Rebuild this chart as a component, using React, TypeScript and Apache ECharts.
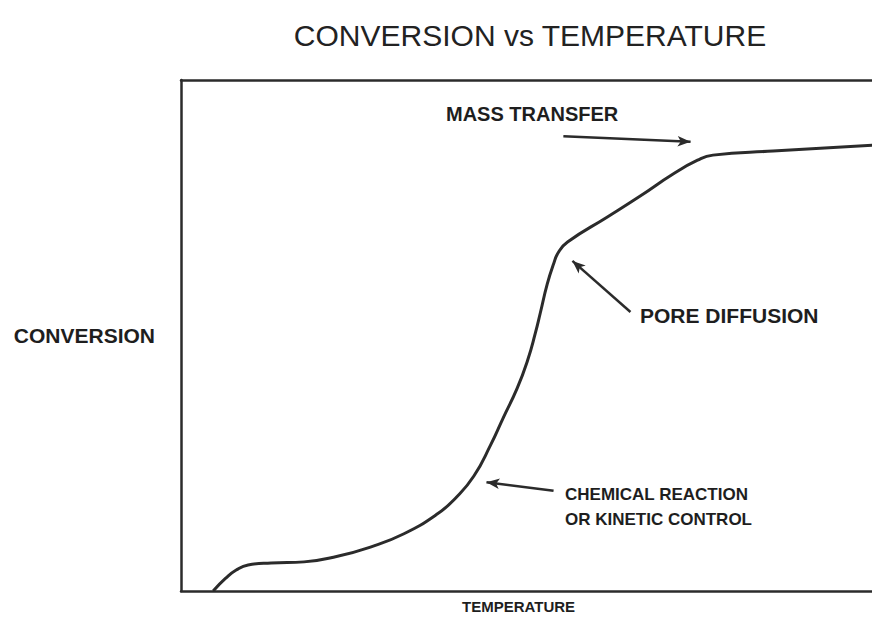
import React, { useEffect, useRef } from "react";
import * as echarts from "echarts";

// Curve: temperature (0-100 across the box) vs conversion (0-100 up the box)
const temperature = [4.6, 6.4, 7.9, 9.6, 12.9, 17.6, 22.4, 27.1, 31.9, 36.7, 39.3, 41.9, 44.3, 46.1, 48.1, 49.6, 50.7, 51.4, 52.4, 53.3, 54.0, 55.3, 61.0, 65.7, 70.4, 73.9, 76.1, 84.7, 100];
const conversion = [0, 2.5, 4.1, 5.1, 5.5, 5.7, 6.8, 8.6, 11.2, 15.1, 18.2, 22.5, 28.6, 33.9, 39.7, 45.2, 50.5, 54.4, 60.1, 64.0, 66.3, 68.3, 73.2, 77.3, 81.6, 84.3, 85.3, 86.1, 87.3];

// Annotation arrows: [tailX, tailY, headX, headY] in data units
const massTransferArrow = [54.7, 89.0, 72.9, 87.9];
const poreDiffusionArrow = [64.3, 54.6, 56.0, 64.6];
const chemicalArrow = [53.3, 19.6, 43.7, 21.3];

const titleText = "CONVERSION vs TEMPERATURE";
const xName = "TEMPERATURE";
const yName = "CONVERSION";
const labelMass = "MASS TRANSFER";
const labelPore = "PORE DIFFUSION";
const labelChem = "CHEMICAL REACTION\nOR KINETIC CONTROL";

const INK = "#2b2b2b";
const FONT = "'Liberation Sans', Arial, Helvetica, sans-serif";

export default function App() {
  const ref = useRef<HTMLDivElement>(null);
  useEffect(() => {
    if (!ref.current) return;
    const chart = echarts.init(ref.current, undefined, { renderer: "svg" });
    const arrow = (a: number[]) => [{ coord: [a[0], a[1]] }, { coord: [a[2], a[3]] }];
    chart.setOption({
      animation: false,
      backgroundColor: "#ffffff",
      title: {
        text: titleText,
        left: 525,
        textAlign: "center",
        top: 15,
        textStyle: { fontFamily: FONT, fontSize: 30, fontWeight: "normal", color: "#222" },
      },
      grid: { left: 181, right: 0, top: 80, bottom: 37 },
      xAxis: [
        {
          type: "value",
          min: 0,
          max: 100,
          axisLine: { show: true, onZero: false, lineStyle: { color: INK, width: 2.5 } },
          axisTick: { show: false },
          axisLabel: { show: false },
          splitLine: { show: false },
        },
        {
          type: "value",
          position: "top",
          min: 0,
          max: 100,
          axisLine: { show: true, onZero: false, lineStyle: { color: INK, width: 2.5 } },
          axisTick: { show: false },
          axisLabel: { show: false },
          splitLine: { show: false },
        },
      ],
      yAxis: {
        type: "value",
        min: 0,
        max: 100,
        name: yName,
        nameLocation: "middle",
        nameRotate: 0,
        nameGap: 26,
        nameTextStyle: { fontFamily: FONT, fontSize: 21, fontWeight: "bold", color: "#1e1e1e", align: "right" },
        axisLine: { show: true, onZero: false, lineStyle: { color: INK, width: 2.5 } },
        axisTick: { show: false },
        axisLabel: { show: false },
        splitLine: { show: false },
      },
      series: [
        {
          type: "line",
          xAxisIndex: 0,
          data: temperature.map((t, i) => [t, conversion[i]]),
          smooth: 0.5,
          showSymbol: false,
          lineStyle: { color: INK, width: 3 },
          silent: true,
          markLine: {
            silent: true,
            symbol: ["none", "arrow"],
            symbolSize: [8, 13],
            label: { show: false },
            lineStyle: { color: INK, width: 2.5, type: "solid" },
            data: [arrow(massTransferArrow), arrow(poreDiffusionArrow), arrow(chemicalArrow)],
          },
        },
      ],
      graphic: [
        {
          type: "text",
          left: 446,
          top: 104,
          style: { text: labelMass, fontFamily: FONT, fontSize: 20, fontWeight: "bold", fill: "#1e1e1e" },
        },
        {
          type: "text",
          left: 640,
          top: 305,
          style: { text: labelPore, fontFamily: FONT, fontSize: 21, fontWeight: "bold", fill: "#1e1e1e" },
        },
        {
          type: "text",
          left: 565,
          top: 482,
          style: { text: labelChem, fontFamily: FONT, fontSize: 17, fontWeight: "bold", lineHeight: 25, fill: "#1e1e1e" },
        },
        {
          type: "text",
          left: 462,
          top: 599,
          style: { text: xName, fontFamily: FONT, fontSize: 15, fontWeight: "bold", fill: "#1e1e1e" },
        },
      ],
    });
    return () => chart.dispose();
  }, []);
  return <div ref={ref} style={{ width: 880, height: 628, margin: -8 }} />;
}
